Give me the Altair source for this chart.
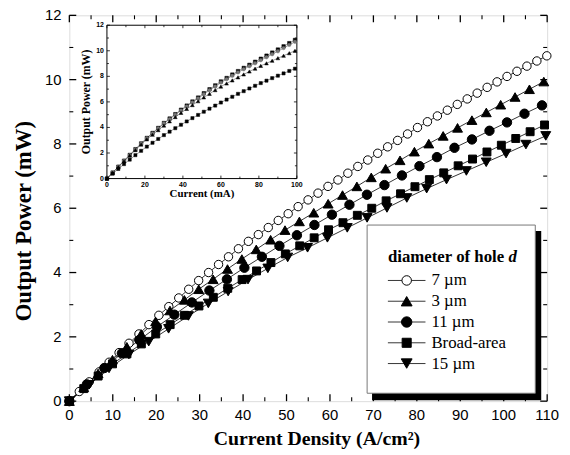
import altair as alt
import pandas as pd

# ---------------- data ----------------
series_names = ["7 µm", "3 µm", "11 µm", "Broad-area", "15 µm"]
legend_labels = ["\u20077 µm", "\u20073 µm", "11 µm", "Broad-area", "15 µm"]

x_7um = [0, 2.29, 4.58, 6.87, 9.16, 11.45, 13.74, 16.03, 18.32, 20.61, 22.9, 25.19, 27.48, 29.77,
         32.06, 34.35, 36.64, 38.93, 41.22, 43.51, 45.8, 48.09, 50.38, 52.67, 54.96, 57.25, 59.54,
         61.83, 64.12, 66.41, 68.7, 70.99, 73.28, 75.57, 77.86, 80.15, 82.44, 84.73, 87.02, 89.31,
         91.6, 93.89, 96.18, 98.47, 100.76, 103.05, 105.34, 107.63, 109.92]
p_7um = [0, 0.30, 0.60, 0.91, 1.21, 1.51, 1.80, 2.09, 2.38, 2.67, 2.94, 3.21, 3.48, 3.75, 4.00,
         4.25, 4.49, 4.74, 4.97, 5.18, 5.40, 5.62, 5.83, 6.05, 6.26, 6.47, 6.68, 6.88, 7.09, 7.30,
         7.50, 7.71, 7.91, 8.11, 8.31, 8.51, 8.69, 8.87, 9.05, 9.23, 9.40, 9.58, 9.76, 9.93, 10.10,
         10.26, 10.42, 10.58, 10.74]

x_3um = [0, 3.31, 6.62, 9.93, 13.24, 16.55, 19.86, 23.17, 26.48, 29.79, 33.1, 36.41, 39.72, 43.03,
         46.34, 49.65, 52.96, 56.27, 59.58, 62.89, 66.2, 69.51, 72.82, 76.13, 79.44, 82.75, 86.06,
         89.37, 92.68, 95.99, 99.3, 102.61, 105.92, 109.23]
p_3um = [0, 0.43, 0.86, 1.29, 1.69, 2.09, 2.48, 2.82, 3.15, 3.48, 3.79, 4.11, 4.42, 4.72, 5.02,
         5.32, 5.59, 5.86, 6.14, 6.41, 6.68, 6.96, 7.23, 7.49, 7.76, 8.01, 8.25, 8.50, 8.74, 8.98,
         9.22, 9.46, 9.70, 9.94]

x_11um = [0, 4.03, 8.06, 12.09, 16.12, 20.15, 24.18, 28.21, 32.24, 36.27, 40.3, 44.33, 48.36,
          52.39, 56.42, 60.45, 64.48, 68.51, 72.54, 76.57, 80.6, 84.63, 88.66, 92.69, 96.72,
          100.75, 104.78, 108.81]
p_11um = [0, 0.52, 1.03, 1.49, 1.90, 2.31, 2.69, 3.07, 3.44, 3.79, 4.15, 4.49, 4.83, 5.16, 5.48,
          5.80, 6.11, 6.42, 6.72, 7.02, 7.31, 7.59, 7.88, 8.14, 8.41, 8.67, 8.94, 9.20]

x_broad = [0, 3.32, 6.63, 9.95, 13.26, 16.58, 19.89, 23.21, 26.52, 29.84, 33.15, 36.47, 39.78,
           43.1, 46.41, 49.73, 53.04, 56.36, 59.67, 62.99, 66.3, 69.62, 72.93, 76.25, 79.56, 82.88,
           86.19, 89.51, 92.82, 96.14, 99.45, 102.77, 106.08, 109.4]
p_broad = [0, 0.39, 0.78, 1.16, 1.47, 1.78, 2.09, 2.38, 2.67, 2.96, 3.23, 3.51, 3.78, 4.05, 4.31,
           4.58, 4.83, 5.08, 5.33, 5.55, 5.78, 6.00, 6.23, 6.45, 6.67, 6.89, 7.10, 7.32, 7.53,
           7.75, 7.96, 8.17, 8.38, 8.59]

x_15um = [0, 4.57, 9.14, 13.71, 18.28, 22.85, 27.42, 31.99, 36.56, 41.13, 45.7, 50.27, 54.84,
          59.41, 63.98, 68.55, 73.12, 77.69, 82.26, 86.83, 91.4, 95.97, 100.54, 105.11, 109.68]
p_15um = [0, 0.51, 1.02, 1.45, 1.85, 2.25, 2.65, 3.04, 3.41, 3.78, 4.13, 4.47, 4.77, 5.08, 5.39,
          5.70, 6.01, 6.32, 6.61, 6.89, 7.16, 7.43, 7.70, 7.98, 8.25]

# inset (output power vs current in mA)
inset_current = [0, 3, 6, 9, 12, 15, 18, 21, 24, 27, 30, 33, 36, 39, 42, 45, 48, 51, 54, 57, 60,
                 63, 66, 69, 72, 75, 78, 81, 84, 87, 90, 93, 96, 99]
inset_a = [0, 0.47, 0.93, 1.40, 1.85, 2.30, 2.75, 3.18, 3.57, 3.96, 4.35, 4.70, 5.04, 5.39, 5.71,
           6.03, 6.34, 6.68, 6.99, 7.29, 7.60, 7.87, 8.14, 8.41, 8.66, 8.90, 9.14, 9.38, 9.62,
           9.86, 10.10, 10.35, 10.60, 10.85]
inset_b = [0, 0.47, 0.92, 1.39, 1.83, 2.28, 2.72, 3.15, 3.53, 3.92, 4.31, 4.65, 4.99, 5.33, 5.65,
           5.96, 6.27, 6.60, 6.91, 7.20, 7.51, 7.78, 8.04, 8.31, 8.55, 8.79, 9.02, 9.26, 9.49,
           9.73, 9.96, 10.21, 10.46, 10.70]
inset_c = [0, 0.45, 0.90, 1.35, 1.79, 2.23, 2.66, 3.07, 3.43, 3.79, 4.15, 4.48, 4.81, 5.14, 5.45,
           5.75, 6.05, 6.35, 6.63, 6.92, 7.20, 7.44, 7.68, 7.92, 8.15, 8.38, 8.60, 8.82, 9.02,
           9.22, 9.42, 9.61, 9.81, 10.0]
inset_d = [0, 0.38, 0.75, 1.13, 1.48, 1.83, 2.17, 2.50, 2.80, 3.10, 3.40, 3.67, 3.94, 4.21, 4.47,
           4.73, 4.98, 5.23, 5.47, 5.71, 5.95, 6.18, 6.40, 6.63, 6.84, 7.05, 7.26, 7.47, 7.66,
           7.86, 8.05, 8.23, 8.42, 8.60]

# tick values and labels
x_major = [0, 10, 20, 30, 40, 50, 60, 70, 80, 90, 100, 110]
x_minor = [5, 15, 25, 35, 45, 55, 65, 75, 85, 95, 105]
y_major = [0, 2, 4, 6, 8, 10, 12]
y_minor = [1, 3, 5, 7, 9, 11]
ix_major = [0, 20, 40, 60, 80, 100]
ix_minor = [10, 30, 50, 70, 90]
iy_major = [0, 2, 4, 6, 8, 10, 12]
iy_minor = [1, 3, 5, 7, 9, 11]
x_title = "Current Density (A/cm²)"
y_title = "Output Power (mW)"
inset_x_title = "Current (mA)"
inset_y_title = "Output Power (mW)"
legend_title = "diameter of hole"
legend_title_var = "d"

# ---------------- styles ----------------
shapes = ["circle", "triangle-up", "circle", "square", "triangle-down"]
fills = ["white", "black", "black", "black", "black"]
sizes = [72, 100, 90, 64, 100]
SERIF = "Liberation Serif"
SANS = "Liberation Sans"

W, H = 483, 390

# ---------------- main chart ----------------
rows = []
for name, xs, ps in zip(series_names, [x_7um, x_3um, x_11um, x_broad, x_15um],
                        [p_7um, p_3um, p_11um, p_broad, p_15um]):
    for xv, pv in zip(xs, ps):
        rows.append({"series": name, "j": xv, "p": pv})
df_main = pd.DataFrame(rows)
one = pd.DataFrame({"k": [0]})

main_lines = alt.Chart(df_main).mark_line(color="black", strokeWidth=0.8).encode(
    x=alt.X("j:Q", scale=alt.Scale(domain=[0, 110], nice=False, zero=False), axis=None),
    y=alt.Y("p:Q", scale=alt.Scale(domain=[0, 12], nice=False, zero=False), axis=None),
    detail="series:N",
)

main_points = []
for name, shp, fl, sz in zip(series_names, shapes, fills, sizes):
    main_points.append(
        alt.Chart(df_main).transform_filter(alt.datum.series == name)
        .mark_point(filled=True, shape=shp, fill=fl, stroke="black", strokeWidth=1,
                    size=sz, opacity=1)
        .encode(x=alt.X("j:Q", axis=None), y=alt.Y("p:Q", axis=None))
    )


def xticks(vals, at, off, sw=1.0):
    return alt.Chart(pd.DataFrame({"v": vals})).mark_rule(
        color="black", strokeWidth=sw, y2Offset=off).encode(
        x=alt.X("v:Q", axis=None), y=alt.YDatum(at, axis=None), y2=alt.Y2Datum(at))


def yticks(vals, at, off, sw=1.0):
    return alt.Chart(pd.DataFrame({"v": vals})).mark_rule(
        color="black", strokeWidth=sw, x2Offset=off).encode(
        y=alt.Y("v:Q", axis=None), x=alt.XDatum(at, axis=None), x2=alt.X2Datum(at))


def xlabels(vals, at, off, size, weight="normal"):
    d = pd.DataFrame({"v": vals, "t": [str(v) for v in vals]})
    return alt.Chart(d).mark_text(
        baseline="top", align="center", font=SANS, fontSize=size, fontWeight=weight,
        color="black", yOffset=off).encode(
        x=alt.X("v:Q", axis=None), y=alt.YDatum(at, axis=None), text="t:N")


def ylabels(vals, at, off, size, weight="normal"):
    d = pd.DataFrame({"v": vals, "t": [str(v) for v in vals]})
    return alt.Chart(d).mark_text(
        baseline="middle", align="right", font=SANS, fontSize=size, fontWeight=weight,
        color="black", xOffset=off).encode(
        y=alt.Y("v:Q", axis=None), x=alt.XDatum(at, axis=None), text="t:N")


main_ticks = [
    xticks(x_major, 0, -7, 1.3), xticks(x_minor, 0, -4, 1.1),
    xticks(x_major, 12, 7, 1.3), xticks(x_minor, 12, 4, 1.1),
    yticks(y_major, 0, 7, 1.3), yticks(y_minor, 0, 4, 1.1),
    yticks(y_major, 110, -7, 1.3), yticks(y_minor, 110, -4, 1.1),
]
main_labels = [
    xlabels(x_major, 0, 7, 15),
    ylabels(y_major, 0, -8, 15),
    alt.Chart(one).mark_text(
        text=x_title, font=SERIF, fontSize=20, fontWeight="bold", color="black",
        baseline="middle", align="center", yOffset=38).encode(
        x=alt.XDatum(57, axis=None), y=alt.YDatum(0, axis=None)),
    alt.Chart(one).mark_text(
        text=y_title, font=SERIF, fontSize=23, fontWeight="bold", color="black",
        baseline="middle", align="center", angle=270, xOffset=-46).encode(
        x=alt.XDatum(0, axis=None), y=alt.YDatum(5.6, axis=None)),
]

main_group = alt.layer(main_lines, *main_points, *main_ticks, *main_labels)

# ---------------- inset ----------------
irows = []
for name, vals in zip(["A", "B", "C", "D"], [inset_a, inset_b, inset_c, inset_d]):
    for cv, pv in zip(inset_current, vals):
        irows.append({"s": name, "i": cv, "q": pv})
df_inset = pd.DataFrame(irows)

inset_frame = alt.Chart(one).mark_rect(fill="white", stroke="black", strokeWidth=1).encode(
    x=alt.XDatum(0, scale=alt.Scale(domain=[0, 100], range=[38, 230], nice=False, zero=False),
                 axis=None),
    x2=alt.X2Datum(100),
    y=alt.YDatum(0, scale=alt.Scale(domain=[0, 12], range=[165, 10], nice=False, zero=False),
                 axis=None),
    y2=alt.Y2Datum(12),
)
inset_lines = alt.Chart(df_inset).mark_line(color="#555555", strokeWidth=0.6).encode(
    x=alt.X("i:Q", axis=None), y=alt.Y("q:Q", axis=None), detail="s:N")

inset_marks = []
for name, shp, fl, sz in zip(["A", "B", "C", "D"],
                             ["square", "circle", "triangle-up", "square"],
                             ["black", "#777777", "black", "black"],
                             [12, 12, 14, 10]):
    inset_marks.append(
        alt.Chart(df_inset).transform_filter(alt.datum.s == name)
        .mark_point(filled=True, shape=shp, fill=fl, stroke=fl, strokeWidth=0.5, size=sz,
                    opacity=1)
        .encode(x=alt.X("i:Q", axis=None), y=alt.Y("q:Q", axis=None))
    )

inset_ticks = [
    xticks(ix_major, 0, -3, 0.8), xticks(ix_minor, 0, -2, 0.8),
    xticks(ix_major, 12, 3, 0.8), xticks(ix_minor, 12, 2, 0.8),
    yticks(iy_major, 0, 3, 0.8), yticks(iy_minor, 0, 2, 0.8),
    yticks(iy_major, 100, -3, 0.8), yticks(iy_minor, 100, -2, 0.8),
]

inset_text = [
    xlabels(ix_major, 0, 3, 7, "bold"),
    ylabels(iy_major, 0, -3, 7, "bold"),
    alt.Chart(one).mark_text(
        text=inset_x_title, font=SERIF, fontSize=11, fontWeight="bold", color="black",
        baseline="middle", align="center", yOffset=16).encode(
        x=alt.XDatum(50, axis=None), y=alt.YDatum(0, axis=None)),
    alt.Chart(one).mark_text(
        text=inset_y_title, font=SERIF, fontSize=12, fontWeight="bold", color="black",
        baseline="middle", align="center", angle=270, xOffset=-21).encode(
        x=alt.XDatum(0, axis=None), y=alt.YDatum(6, axis=None)),
]

inset_group = alt.layer(inset_frame, inset_lines, *inset_marks, *inset_ticks, *inset_text)

# ---------------- legend ----------------
legend_df = pd.DataFrame({"series": series_names, "label": legend_labels})
row_scale = alt.Scale(type="point", domain=series_names, range=[268, 352], padding=0)

leg_shadow = alt.Chart(one).mark_rect(color="black").encode(
    x=alt.value(306), x2=alt.value(477), y=alt.value(218), y2=alt.value(389))
leg_box = alt.Chart(one).mark_rect(fill="white", stroke="#777777", strokeWidth=1).encode(
    x=alt.value(301), x2=alt.value(471), y=alt.value(212), y2=alt.value(382))
leg_title = alt.Chart(one).mark_text(
    text=legend_title, font=SERIF, fontSize=17, fontWeight="bold", color="black",
    align="left", baseline="middle").encode(x=alt.value(322), y=alt.value(244))
leg_title_d = alt.Chart(one).mark_text(
    text=legend_title_var, font=SERIF, fontSize=17, fontWeight="bold", fontStyle="italic",
    color="black", align="left", baseline="middle").encode(x=alt.value(444), y=alt.value(244))
leg_lines = alt.Chart(legend_df).mark_rule(color="black", strokeWidth=0.8).encode(
    x=alt.value(322), x2=alt.value(360),
    y=alt.Y("series:N", scale=row_scale, axis=None))
leg_text = alt.Chart(legend_df).mark_text(
    align="left", baseline="middle", font=SERIF, fontSize=17, color="black").encode(
    x=alt.value(366), y=alt.Y("series:N", axis=None), text="label:N")
leg_points = []
for name, shp, fl, sz in zip(series_names, shapes, fills, sizes):
    leg_points.append(
        alt.Chart(legend_df).transform_filter(alt.datum.series == name)
        .mark_point(filled=True, shape=shp, fill=fl, stroke="black", strokeWidth=1,
                    size=sz + 20, opacity=1)
        .encode(x=alt.value(341), y=alt.Y("series:N", axis=None))
    )

legend_group = alt.layer(leg_shadow, leg_box, leg_title, leg_title_d, leg_lines, leg_text,
                         *leg_points)

chart = (
    alt.layer(main_group, inset_group, legend_group)
    .resolve_scale(x="independent", y="independent")
    .properties(width=W, height=H, autosize=alt.AutoSizeParams(type="none"),
                padding={"left": 62, "top": 5, "right": 15, "bottom": 50})
    .configure_view(stroke="black", strokeWidth=1.6)
    .configure(background="white")
)

chart.save("out.html", embed_options={"renderer": "svg", "actions": False})
